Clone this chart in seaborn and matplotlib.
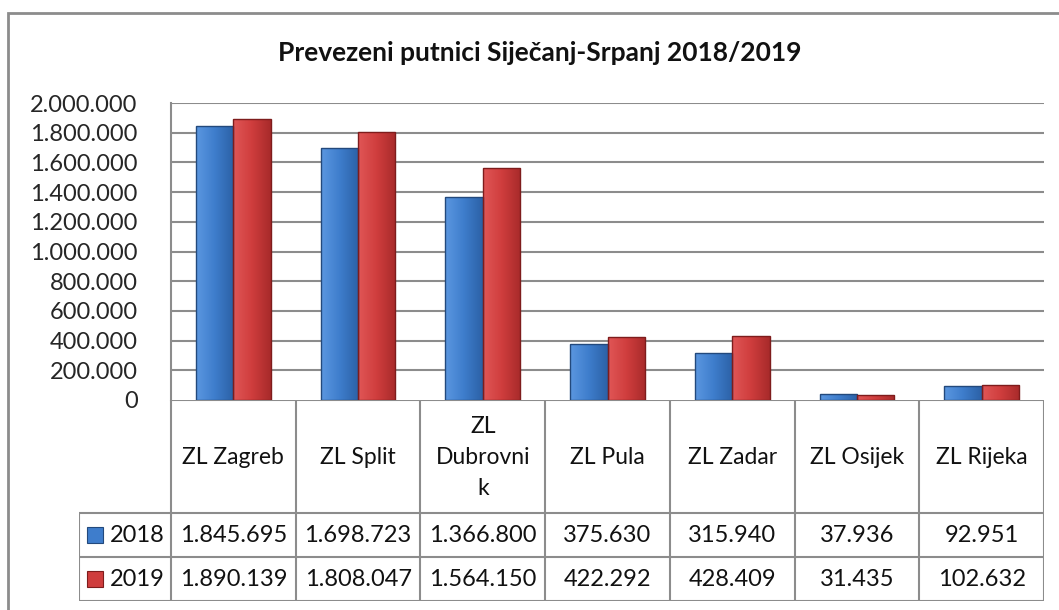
"""Prevezeni putnici - bar chart with data table"""

import numpy as np
import pandas as pd
import matplotlib
matplotlib.use("Agg")
import matplotlib.pyplot as plt
from matplotlib.colors import LinearSegmentedColormap
from matplotlib.patches import Rectangle
import seaborn as sns

airports = ["ZL Zagreb", "ZL Split", "ZL Dubrovnik", "ZL Pula",
            "ZL Zadar", "ZL Osijek", "ZL Rijeka"]
header_labels = ["ZL Zagreb", "ZL Split", "ZL\nDubrovni\nk", "ZL Pula",
                 "ZL Zadar", "ZL Osijek", "ZL Rijeka"]
years = ["2018", "2019"]
pax_2018 = [1845695, 1698723, 1366800, 375630, 315940, 37936, 92951]
pax_2019 = [1890139, 1808047, 1564150, 422292, 428409, 31435, 102632]
yticks = [0, 200000, 400000, 600000, 800000, 1000000, 1200000,
          1400000, 1600000, 1800000, 2000000]

W, H = 1059, 610
GRAY = "#8c8c8c"
BODY = {"2018": ["#5b97e0", "#3e7dcc", "#2c61a6"],
        "2019": ["#e05656", "#cf3d3d", "#a82a2a"]}
EDGE = {"2018": "#23497c", "2019": "#7e1c1c"}


def fmt(v: int) -> str:
    """Thousands separator as dot"""
    return f"{v:,}".replace(",", ".")


def main() -> None:
    sns.set_theme(style="white")
    plt.rcParams["font.family"] = ["Lato", "DejaVu Sans"]

    df = pd.DataFrame({
        "airport": airports * 2,
        "year": [years[0]] * len(airports) + [years[1]] * len(airports),
        "pax": pax_2018 + pax_2019,
    })

    fig = plt.figure(figsize=(W / 100, H / 100), dpi=100)
    fig.patch.set_facecolor("white")

    # plot area in pixel geometry
    left, right, top, base = 171, 1044, 103, 400
    ax = fig.add_axes([left / W, 1 - base / H, (right - left) / W,
                       (base - top) / H])
    sns.barplot(data=df, x="airport", y="pax", hue="year", order=airports,
                hue_order=years, palette=[BODY["2018"][1], BODY["2019"][1]],
                width=0.6, ax=ax, legend=False, zorder=3)
    ax.set_xlim(-0.5, len(airports) - 0.5)
    ax.set_ylim(0, 2000000)
    ax.set_yticks(yticks)
    ax.set_yticklabels([fmt(v) for v in yticks], fontsize=17)
    ax.tick_params(axis="y", length=0, pad=24)
    ax.set_xticks([])
    ax.set_xlabel("")
    ax.set_ylabel("")
    for s in ["top", "right", "bottom"]:
        ax.spines[s].set_visible(False)
    ax.spines["left"].set_color(GRAY)
    ax.spines["left"].set_linewidth(1.5)
    for v in yticks[1:]:
        ax.axhline(v, color=GRAY, lw=1.5, zorder=1)

    # gradient fill for bars
    n = len(airports)
    for k, yr in enumerate(years):
        cmap = LinearSegmentedColormap.from_list(yr, BODY[yr])
        for patch in ax.patches[k * n:(k + 1) * n]:
            x, y = patch.get_x(), patch.get_y()
            w, h = patch.get_width(), patch.get_height()
            grad = np.linspace(0, 1, 64).reshape(1, -1)
            im = ax.imshow(grad, cmap=cmap, aspect="auto",
                           extent=[x, x + w, y, y + h], zorder=3)
            im.set_clip_path(patch)
            patch.set_facecolor("none")
            patch.set_edgecolor(EDGE[yr])
            patch.set_linewidth(1.0)
            patch.set_zorder(4)
    ax.set_xlim(-0.5, n - 0.5)
    ax.set_ylim(0, 2000000)

    # data table below the plot
    leg_left, row1, row2, row3 = 79, 513, 557, 601
    col_w = (right - left) / n
    tx0 = -0.5 - (left - leg_left) / col_w
    tab = fig.add_axes([leg_left / W, 1 - row3 / H, (right - leg_left) / W,
                        (row3 - base) / H])
    tab.set_xlim(tx0, n - 0.5)
    tab.set_ylim(row3, base)
    tab.axis("off")
    line_kw = dict(color=GRAY, lw=1.5, solid_capstyle="butt")
    tab.plot([-0.5, n - 0.5], [base, base], **line_kw)
    for yy in (row1, row2, row3):
        tab.plot([tx0, n - 0.5], [yy, yy], **line_kw)
    tab.plot([tx0, tx0], [row1, row3], **line_kw)
    for i in range(n + 1):
        tab.plot([i - 0.5, i - 0.5], [base, row3], **line_kw)
    for i, lab in enumerate(header_labels):
        tab.text(i, (base + row1) / 2 + 1, lab, ha="center", va="center",
                 fontsize=16.5, linespacing=1.6, color="#111111")
    for r, (yr, vals) in enumerate(zip(years, [pax_2018, pax_2019])):
        yc = (row1 + row2) / 2 if r == 0 else (row2 + row3) / 2
        for i, v in enumerate(vals):
            tab.text(i, yc, fmt(v), ha="center", va="center", fontsize=17,
                     color="#111111")
        kx = tx0 + 8 / col_w
        tab.add_patch(Rectangle((kx, yc - 8), 16 / col_w, 16,
                                facecolor=BODY[yr][1], edgecolor=EDGE[yr],
                                lw=0.8))
        tab.text(kx + 23 / col_w, yc, yr, ha="left", va="center",
                 fontsize=17, color="#111111")

    fig.text(540 / W, 1 - 53 / H, "Prevezeni putnici Siječanj-Srpanj 2018/2019",
             ha="center", va="center", fontsize=19, fontweight="bold",
             color="#111111")

    # outer chart frame
    fig.add_artist(Rectangle((8 / W, -0.1), 1.2, 1.1 - 13 / H,
                             transform=fig.transFigure, facecolor="none",
                             edgecolor=GRAY, lw=2))

    fig.savefig("out.png", dpi=100, facecolor="white")


if __name__ == "__main__":
    main()
